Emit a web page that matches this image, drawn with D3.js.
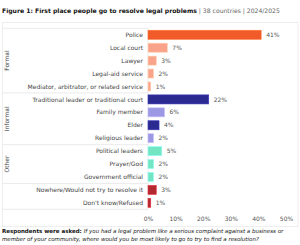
<!DOCTYPE html>
<html>
<head>
<meta charset="utf-8">
<script src="https://d3js.org/d3.v7.min.js"></script>
<style>
  body { margin: 0; background: #fff; }
  svg { display: block; font-family: "DejaVu Sans", sans-serif; }
</style>
</head>
<body>
<svg id="chart" width="300" height="245"></svg>
<script>
// data
const categories = [
  "Police", "Local court", "Lawyer", "Legal-aid service",
  "Mediator, arbitrator, or related service",
  "Traditional leader or traditional court", "Family member", "Elder", "Religious leader",
  "Political leaders", "Prayer/God", "Government official",
  "Nowhere/Would not try to resolve it", "Don't know/Refused"
];
const values = [41, 7, 3, 2, 1, 22, 6, 4, 2, 5, 2, 2, 3, 1];
const groups = ["Formal", "Formal", "Formal", "Formal", "Formal",
  "Informal", "Informal", "Informal", "Informal",
  "Other", "Other", "Other", "None", "None"];
const barColors = ["#f15a29", "#f9a48a", "#f9a48a", "#f9a48a", "#f9a48a",
  "#2b2a91", "#9c98e3", "#2b2a91", "#9c98e3",
  "#72e5c3", "#72e5c3", "#72e5c3", "#b32830", "#b32830"];
const tickValues = [0, 10, 20, 30, 40, 50];

const svg = d3.select("#chart");

// title
const title = svg.append("text").attr("x", 2).attr("y", 13).attr("font-size", 6.1);
title.append("tspan").attr("font-weight", "bold").attr("fill", "#111")
  .text("Figure 1: First place people go to resolve legal problems");
title.append("tspan").attr("fill", "#666").text(" | 38 countries | 2024/2025");

// outer frame
svg.append("rect").attr("x", 2.5).attr("y", 22.5).attr("width", 295.5).attr("height", 204)
  .attr("fill", "none").attr("stroke", "#eeeeee").attr("stroke-width", 1);

const x = d3.scaleLinear().domain([0, 50]).range([148, 286]);
const y = d3.scaleBand().domain(categories).range([28.3, 209.3]).paddingInner(0.3).paddingOuter(0.15);

// group separator lines
const step = y.step();
const y0 = y.range()[0];
const bounds = [0];
groups.forEach((g, i) => { if (i > 0 && g !== groups[i - 1]) bounds.push(i); });
bounds.push(groups.length);
svg.append("g").selectAll("line").data(bounds).join("line")
  .attr("x1", 2.5).attr("x2", 148)
  .attr("y1", i => y0 + i * step).attr("y2", i => y0 + i * step)
  .attr("stroke", "#e6e6e6").attr("stroke-width", 0.8);

// vertical axis line
svg.append("line").attr("x1", 148).attr("x2", 148).attr("y1", y0).attr("y2", y0 + groups.length * step)
  .attr("stroke", "#e6e6e6").attr("stroke-width", 0.8);

// group labels
const groupNames = ["Formal", "Informal", "Other"];
groupNames.forEach(g => {
  const idx = groups.map((d, i) => d === g ? i : -1).filter(i => i >= 0);
  const cy = y0 + (idx[0] + idx[idx.length - 1] + 1) / 2 * step;
  svg.append("text").attr("transform", `translate(9,${cy}) rotate(-90)`)
    .attr("text-anchor", "middle").attr("font-size", 6).attr("fill", "#444").text(g);
});

// category labels
svg.append("g").selectAll("text").data(categories).join("text")
  .attr("x", 143).attr("y", d => y(d) + y.bandwidth() / 2)
  .attr("dy", "0.35em").attr("text-anchor", "end")
  .attr("font-size", 6).attr("fill", "#444").text(d => d);

// bars
svg.append("g").selectAll("rect").data(values).join("rect")
  .attr("x", x(0)).attr("y", (d, i) => y(categories[i]))
  .attr("width", d => x(d) - x(0)).attr("height", y.bandwidth())
  .attr("fill", (d, i) => barColors[i])
  .attr("stroke", (d, i) => d3.color(barColors[i]).brighter(0.7))
  .attr("stroke-width", 0.6);

// value labels
svg.append("g").selectAll("text").data(values).join("text")
  .attr("x", d => x(d) + 5).attr("y", (d, i) => y(categories[i]) + y.bandwidth() / 2)
  .attr("dy", "0.35em").attr("font-size", 6).attr("fill", "#555").text(d => d + "%");

// x axis
const axis = svg.append("g").attr("transform", "translate(0,214)")
  .call(d3.axisBottom(x).tickValues(tickValues).tickFormat(d => d + "%").tickSize(0));
axis.select(".domain").remove();
axis.selectAll("text").attr("font-size", 6).attr("fill", "#555")
  .attr("font-family", "DejaVu Sans, sans-serif");

// footnote
const note1 = svg.append("text").attr("x", 2).attr("y", 233).attr("font-size", 5.5).attr("fill", "#111");
note1.append("tspan").attr("font-weight", "bold").text("Respondents were asked: ");
note1.append("tspan").attr("font-style", "italic")
  .text("If you had a legal problem like a serious complaint against a business or");
svg.append("text").attr("x", 2).attr("y", 240.5).attr("font-size", 5.5).attr("fill", "#111")
  .attr("font-style", "italic")
  .text("member of your community, where would you be most likely to go to try to find a resolution?");
</script>
</body>
</html>
